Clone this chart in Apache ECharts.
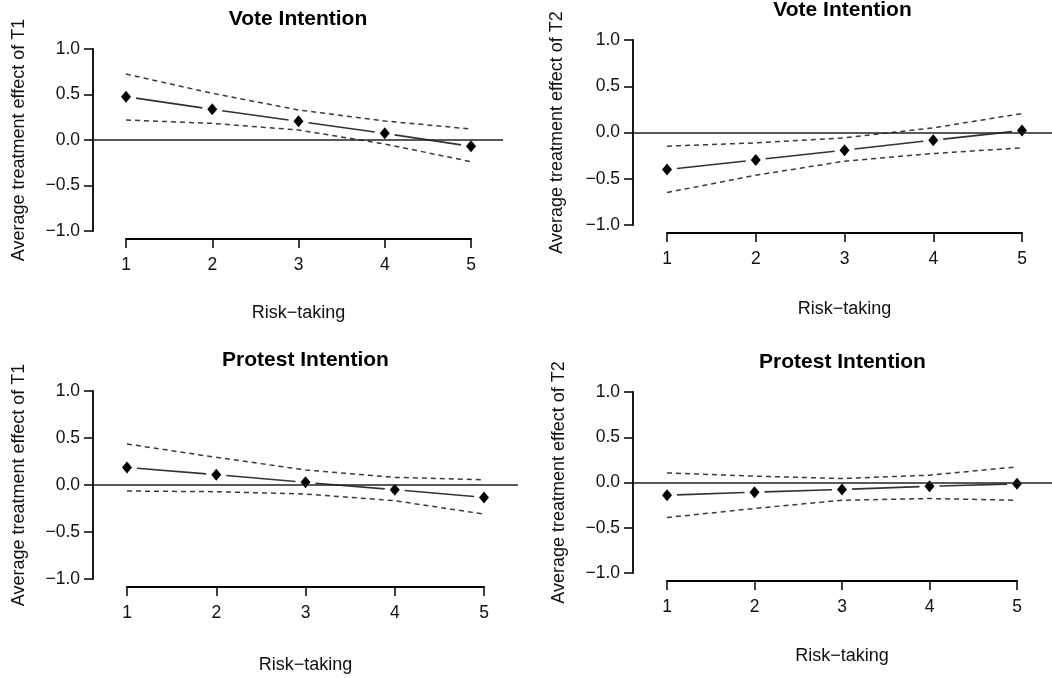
<!DOCTYPE html>
<html>
<head>
<meta charset="utf-8">
<script src="https://cdn.jsdelivr.net/npm/echarts@6/dist/echarts.min.js"></script>
<style>
  html, body { margin: 0; padding: 0; background: #fff; }
  #chart { width: 1052px; height: 678px; }
</style>
</head>
<body>
<div id="chart"></div>
<script>
// x categories (risk-taking levels)
const riskLevels = [1, 2, 3, 4, 5]

// Vote intention, T1
const voteT1Est = [0.476, 0.337, 0.205, 0.073, -0.07]
const voteT1Upper = [0.725, 0.513, 0.33, 0.209, 0.121]
const voteT1Lower = [0.22, 0.183, 0.11, -0.044, -0.238]

// Vote intention, T2
const voteT2Est = [-0.4, -0.296, -0.191, -0.083, 0.021]
const voteT2Upper = [-0.148, -0.112, -0.058, 0.05, 0.205]
const voteT2Lower = [-0.649, -0.462, -0.31, -0.227, -0.166]

// Protest intention, T1
const protestT1Est = [0.187, 0.11, 0.028, -0.05, -0.132]
const protestT1Upper = [0.436, 0.294, 0.16, 0.081, 0.056]
const protestT1Lower = [-0.064, -0.071, -0.096, -0.167, -0.309]

// Protest intention, T2
const protestT2Est = [-0.14, -0.107, -0.077, -0.041, -0.015]
const protestT2Upper = [0.106, 0.07, 0.044, 0.081, 0.173]
const protestT2Lower = [-0.387, -0.287, -0.196, -0.177, -0.196]

const FONT = "'Liberation Sans', Arial, sans-serif"
const INK = "#111"

const panels = [
  {
    title: "Vote Intention", yName: "Average treatment effect of T1",
    est: voteT1Est, upper: voteT1Upper, lower: voteT1Lower,
    pos: { yAxisX: 93, zeroEnd: 503, yTop: 49, yBottom: 231, xAxisY: 239, x1: 126, x5: 471, titleTop: 9, yNameGap: 65, xNameGap: 65 },
  },
  {
    title: "Vote Intention", yName: "Average treatment effect of T2",
    est: voteT2Est, upper: voteT2Upper, lower: voteT2Lower,
    pos: { yAxisX: 633, zeroEnd: 1052, yTop: 40, yBottom: 225, xAxisY: 233, x1: 667, x5: 1022, titleTop: 0, yNameGap: 67, xNameGap: 67 },
  },
  {
    title: "Protest Intention", yName: "Average treatment effect of T1",
    est: protestT1Est, upper: protestT1Upper, lower: protestT1Lower,
    pos: { yAxisX: 93, zeroEnd: 518, yTop: 391, yBottom: 579, xAxisY: 587, x1: 127, x5: 484, titleTop: 350, yNameGap: 65, xNameGap: 69 },
  },
  {
    title: "Protest Intention", yName: "Average treatment effect of T2",
    est: protestT2Est, upper: protestT2Upper, lower: protestT2Lower,
    pos: { yAxisX: 633, zeroEnd: 1052, yTop: 392, yBottom: 573, xAxisY: 581, x1: 667, x5: 1017, titleTop: 352, yNameGap: 65, xNameGap: 66 },
  },
]

const fmtY = v => (v < 0 ? "\u2212" : "") + Math.abs(v).toFixed(1)

const option = {
  animation: false,
  textStyle: { fontFamily: FONT },
  title: [], grid: [], xAxis: [], yAxis: [], series: [],
}

panels.forEach((p, i) => {
  const s = p.pos
  const first = riskLevels[0]
  const last = riskLevels[riskLevels.length - 1]
  const unit = (s.x5 - s.x1) / (last - first)
  const gA = i * 2      // data grid
  const gB = i * 2 + 1  // x axis grid (axis line only spans 1..5)

  option.title.push({
    text: p.title,
    left: (s.yAxisX + s.zeroEnd) / 2,
    top: s.titleTop,
    textAlign: "center",
    padding: 0,
    textStyle: { fontFamily: FONT, fontSize: 21, fontWeight: "bold", color: "#000" },
  })

  option.grid.push({
    left: s.yAxisX, top: s.yTop,
    width: s.zeroEnd - s.yAxisX, height: s.yBottom - s.yTop,
  })
  option.grid.push({
    left: s.x1, top: s.xAxisY - 1,
    width: s.x5 - s.x1, height: 1,
  })

  // hidden x axis for data grid, stretched so 1..5 sit under the visible axis
  option.xAxis.push({
    gridIndex: gA, type: "value", show: false,
    min: first - (s.x1 - s.yAxisX) / unit,
    max: last + (s.zeroEnd - s.x5) / unit,
  })
  option.xAxis.push({
    gridIndex: gB, type: "value", min: first, max: last, interval: 1,
    name: "Risk\u2212taking", nameLocation: "middle", nameGap: s.xNameGap,
    nameTextStyle: { fontFamily: FONT, fontSize: 18, color: INK },
    axisLine: { onZero: false, lineStyle: { color: "#000", width: 1.8 } },
    axisTick: { length: 9, lineStyle: { color: "#000", width: 1.5 } },
    axisLabel: { margin: 17, fontSize: 17.5, color: INK, fontFamily: FONT },
    splitLine: { show: false },
  })

  option.yAxis.push({
    gridIndex: gA, type: "value", min: -1, max: 1, interval: 0.5,
    name: p.yName, nameLocation: "middle", nameGap: s.yNameGap,
    nameTextStyle: { fontFamily: FONT, fontSize: 18, color: INK },
    axisLine: { show: true, onZero: false, lineStyle: { color: "#000", width: 1.8 } },
    axisTick: { show: true, length: 9, lineStyle: { color: "#000", width: 1.5 } },
    axisLabel: { margin: 13, fontSize: 17.5, color: INK, fontFamily: FONT, formatter: fmtY },
    splitLine: { show: false },
  })
  option.yAxis.push({ gridIndex: gB, type: "value", min: 0, max: 1, show: false })

  const dashed = { color: "#3a3a3a", width: 1.5, type: [5, 4] }

  option.series.push({
    type: "line", xAxisIndex: gA, yAxisIndex: gA,
    data: riskLevels.map((x, k) => [x, p.upper[k]]),
    showSymbol: false, lineStyle: dashed, silent: true, z: 2,
    markLine: {
      symbol: "none", silent: true, label: { show: false },
      lineStyle: { type: "solid", color: "#222", width: 1.6 },
      data: [{ yAxis: 0 }],
    },
  })
  option.series.push({
    type: "line", xAxisIndex: gA, yAxisIndex: gA,
    data: riskLevels.map((x, k) => [x, p.lower[k]]),
    showSymbol: false, lineStyle: dashed, silent: true, z: 2,
  })

  // estimate line, R type="b": segments stop short of each point
  const segs = riskLevels.slice(0, -1).map((x, k) => [x, p.est[k], riskLevels[k + 1], p.est[k + 1]])
  option.series.push({
    type: "custom", xAxisIndex: gA, yAxisIndex: gA, z: 3,
    data: segs,
    encode: { x: [0, 2], y: [1, 3] },
    renderItem: (params, api) => {
      const a = api.coord([api.value(0), api.value(1)])
      const b = api.coord([api.value(2), api.value(3)])
      const dx = b[0] - a[0]
      const dy = b[1] - a[1]
      const g = 10 / Math.hypot(dx, dy)
      return {
        type: "line",
        shape: { x1: a[0] + dx * g, y1: a[1] + dy * g, x2: b[0] - dx * g, y2: b[1] - dy * g },
        style: { stroke: "#333", lineWidth: 1.6 },
      }
    },
  })

  option.series.push({
    type: "scatter", xAxisIndex: gA, yAxisIndex: gA, z: 4,
    data: riskLevels.map((x, k) => [x, p.est[k]]),
    symbol: "diamond", symbolSize: [10, 12],
    itemStyle: { color: "#000", opacity: 1 },
  })
})

const chart = echarts.init(document.getElementById("chart"), null, { renderer: "canvas" })
chart.setOption(option)
</script>
</body>
</html>
